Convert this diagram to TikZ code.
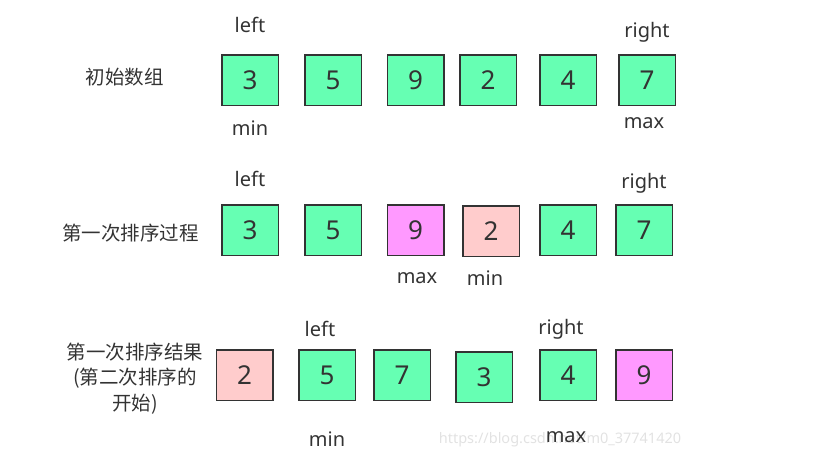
\documentclass[tikz,border=0pt]{standalone}
\usepackage{fontspec}
\setmainfont{Noto Sans}
\newfontfamily\cjk{Noto Sans CJK SC}
\usepackage{xcolor}
\usepackage{tikz}
\definecolor{ink}{HTML}{333333}
\definecolor{grn}{HTML}{66FFB3}
\definecolor{mag}{HTML}{FF99FF}
\definecolor{pnk}{HTML}{FFCCCC}
\definecolor{wmk}{HTML}{E2E2E2}
\tikzset{
  box/.style={draw=ink, line width=1.5pt, minimum width=56.5pt, minimum height=50.5pt, inner sep=0pt, text=ink, font=\fontsize{26}{26}\selectfont},
  gbox/.style={box, fill=grn},
  mbox/.style={box, fill=mag},
  pbox/.style={box, fill=pnk},
  lab/.style={text=ink, inner sep=0pt, font=\fontsize{20}{20}\selectfont},
  ttl/.style={text=ink, inner sep=0pt, align=center, font=\cjk\fontsize{19.5}{25.5}\selectfont},
  wm/.style={text=wmk, inner sep=0pt, font=\fontsize{14.5}{14.5}\selectfont}
}

\begin{document}
\begin{tikzpicture}[x=1pt,y=-1pt]
  \useasboundingbox (0,0) rectangle (826,461);

  % initial array
  \node[ttl] (t1) at (124.5,77) {初始数组};
  \node[gbox] (a1) at (250,80)   {3};
  \node[gbox] (a2) at (333,80)   {5};
  \node[gbox] (a3) at (415.5,80) {9};
  \node[gbox] (a4) at (488,80)   {2};
  \node[gbox] (a5) at (568,80)   {4};
  \node[gbox] (a6) at (647,80)   {7};
  \node[lab] (aL) at (250,25)  {left};
  \node[lab] (aR) at (647,32)  {right};
  \node[lab] (aMin) at (250,128) {min};
  \node[lab] (aMax) at (644,123) {max};

  % first pass
  \node[ttl] (t2) at (130.5,233) {第一次排序过程};
  \node[gbox] (b1) at (250,230)   {3};
  \node[gbox] (b2) at (333,230)   {5};
  \node[mbox] (b3) at (415.5,230) {9};
  \node[pbox] (b4) at (491,231)   {2};
  \node[gbox] (b5) at (568,230)   {4};
  \node[gbox] (b6) at (644,230)   {7};
  \node[lab] (bL) at (250,179)  {left};
  \node[lab] (bR) at (644,183)  {right};
  \node[lab] (bMax) at (417,278) {max};
  \node[lab] (bMin) at (485,278) {min};

  % result of first pass
  \node[ttl] (t3) at (135,378.5) {第一次排序结果\\(第二次排序的\\开始)};
  \node[pbox] (c1) at (244.5,375) {2};
  \node[gbox] (c2) at (327,375)   {5};
  \node[gbox] (c3) at (402,375)   {7};
  \node[gbox] (c4) at (484,377)   {3};
  \node[gbox] (c5) at (568,375)   {4};
  \node[mbox] (c6) at (644,375)   {9};
  \node[lab] (cL) at (320,329)  {left};
  \node[lab] (cR) at (561,329)  {right};
  \node[lab] (cMin) at (327,439) {min};

  \node[wm] (w) at (560,440) {https://blog.csdn.net/m0\_37741420};
  \node[lab] (cMax) at (566,437) {max};
\end{tikzpicture}
\end{document}
